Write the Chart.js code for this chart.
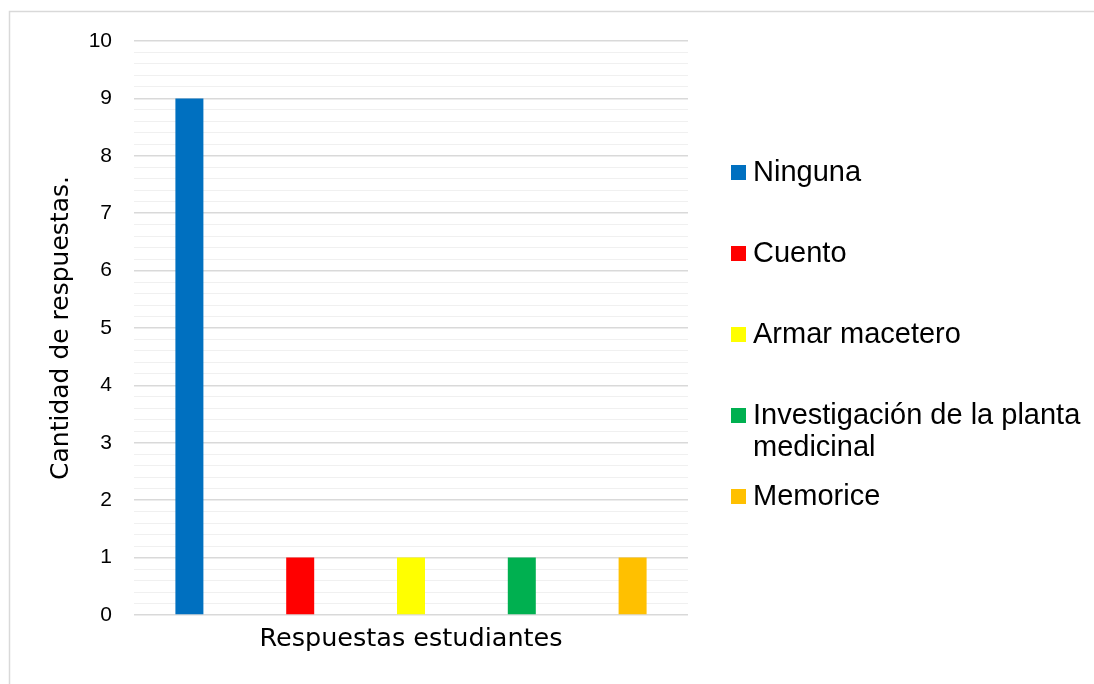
<!DOCTYPE html>
<html>
<head>
<meta charset="utf-8">
<script src="https://cdn.jsdelivr.net/npm/chart.js@4/dist/chart.umd.min.js"></script>
<style>
  html, body { margin: 0; padding: 0; background: #ffffff; }
  #wrap { width: 1094px; height: 684px; position: relative; }
</style>
</head>
<body>
<div id="wrap"><canvas id="c" width="1094" height="684"></canvas></div>
<script>
const categories = ['Respuestas estudiantes'];
const seriesNames = ['Ninguna', 'Cuento', 'Armar macetero', 'Investigación de la planta medicinal', 'Memorice'];
const seriesValues = [9, 1, 1, 1, 1];
const seriesColors = ['#0070C0', '#FF0000', '#FFFF00', '#00B050', '#FFC000'];
const yTitle = 'Cantidad de respuestas.';
const yMin = 0, yMax = 10, yMinorStep = 0.2;

const isMajor = v => Math.abs(v - Math.round(v)) < 1e-6;

const frame = {
  id: 'frame',
  beforeDraw(chart) {
    const ctx = chart.ctx;
    ctx.save();
    ctx.fillStyle = '#ffffff';
    ctx.fillRect(0, 0, chart.width, chart.height);
    ctx.strokeStyle = '#d9d9d9';
    ctx.lineWidth = 1.5;
    ctx.strokeRect(9.5, 11.5, chart.width + 20, chart.height + 20);
    ctx.restore();
  }
};

const sideLegend = {
  id: 'sideLegend',
  afterDraw(chart) {
    const ctx = chart.ctx;
    ctx.save();
    ctx.font = '29px "Liberation Sans", Arial, sans-serif';
    ctx.textBaseline = 'middle';
    ctx.textAlign = 'left';
    const boxX = 731, textX = 753, box = 15, startY = 172.5, step = 81, lineH = 32;
    const maxW = chart.width - textX - 4;
    chart.data.datasets.forEach((ds, i) => {
      const y = startY + i * step;
      ctx.fillStyle = ds.backgroundColor;
      ctx.fillRect(boxX, y - box / 2, box, box);
      const words = ds.label.split(' ');
      const lines = [];
      let cur = '';
      words.forEach(w => {
        const test = cur ? cur + ' ' + w : w;
        if (ctx.measureText(test).width > maxW && cur) { lines.push(cur); cur = w; }
        else cur = test;
      });
      if (cur) lines.push(cur);
      ctx.fillStyle = '#000000';
      lines.forEach((ln, k) => ctx.fillText(ln, textX, y + k * lineH));
    });
    ctx.restore();
  }
};

const datasets = seriesNames.map((name, i) => ({
  label: name,
  data: [seriesValues[i]],
  backgroundColor: seriesColors[i],
  borderWidth: 0,
  categoryPercentage: 1.0,
  barPercentage: 0.2527
}));

new Chart(document.getElementById('c'), {
  type: 'bar',
  data: { labels: categories, datasets },
  options: {
    responsive: false,
    animation: false,
    events: [],
    layout: { padding: { left: 0, top: 41, right: 406, bottom: 0 } },
    plugins: { legend: { display: false }, tooltip: { enabled: false } },
    scales: {
      x: {
        grid: { display: false, drawTicks: false },
        border: { display: false },
        ticks: {
          color: '#000000',
          padding: 9,
          font: { family: '"DejaVu Sans", sans-serif', size: 25.5 }
        },
        afterFit: s => { s.height = 69; }
      },
      y: {
        min: yMin,
        max: yMax,
        border: { display: false },
        grid: {
          drawTicks: false,
          color: c => (c.tick && isMajor(c.tick.value)) ? '#d9d9d9' : '#f0f0f0',
          lineWidth: c => (c.tick && isMajor(c.tick.value)) ? 1.5 : 1
        },
        ticks: {
          stepSize: yMinorStep,
          autoSkip: false,
          color: '#000000',
          padding: 22,
          font: { family: '"Liberation Sans", Arial, sans-serif', size: 21 },
          callback: v => isMajor(v) ? String(Math.round(v)) : ''
        },
        title: {
          display: true,
          text: yTitle,
          color: '#000000',
          font: { family: '"DejaVu Sans", sans-serif', size: 25 },
          padding: { top: 46, bottom: 0 }
        },
        afterFit: s => { s.width = 134; }
      }
    }
  },
  plugins: [frame, sideLegend]
});
</script>
</body>
</html>
